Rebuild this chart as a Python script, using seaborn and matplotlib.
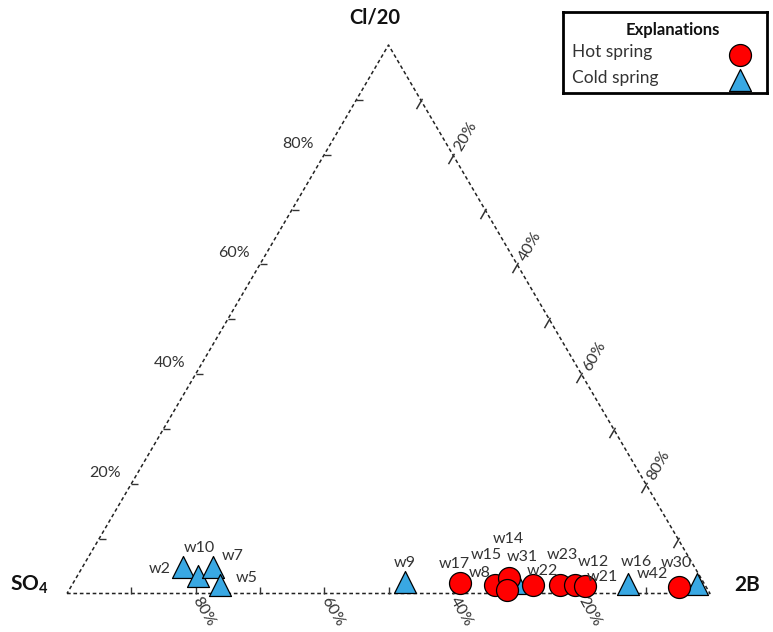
import numpy as np
import pandas as pd
import matplotlib
matplotlib.use("Agg")
import matplotlib.pyplot as plt
from matplotlib.path import Path
import seaborn as sns

# ---- sample composition (percent of SO4, Cl/20 and 2B) ----
names = ["w2", "w10", "w7", "w5", "w9", "w31", "w16", "w30",
         "w17", "w8", "w14", "w15", "w22", "w23", "w12", "w21", "w42"]
kind = ["Cold spring"] * 8 + ["Hot spring"] * 9
so4 = [79.5, 78.0, 74.8, 75.4, 46.4, 29.1, 11.9, 1.1,
       37.9, 32.7, 29.9, 31.3, 26.8, 22.6, 20.2, 18.7, 4.2]
cl20 = [4.9, 3.2, 4.9, 1.6, 2.1, 1.9, 1.7, 1.8,
        2.0, 1.5, 2.8, 0.6, 1.5, 1.5, 1.5, 1.4, 1.2]
b2 = [15.6, 18.8, 20.3, 23.0, 51.5, 69.0, 86.4, 97.1,
      60.1, 65.8, 67.3, 68.1, 71.7, 75.9, 78.3, 79.9, 94.6]

# label offsets for each sample name (points)
label_offset = {
    "w2": (-17, -2), "w10": (1, 20), "w7": (14, 8), "w5": (19, 5),
    "w9": (0, 14), "w31": (4, 19), "w16": (6, 16), "w30": (-15, 15),
    "w17": (-4, 13), "w8": (-11, 9), "w14": (0, 28), "w15": (-15, 25),
    "w22": (7, 10), "w23": (2, 22), "w12": (13, 17), "w21": (12, 6),
    "w42": (-19, 9),
}

tick_values = [20, 40, 60, 80]

df = pd.DataFrame({"name": names, "kind": kind, "SO4": so4, "Cl": cl20, "B": b2})
tot = df["SO4"] + df["Cl"] + df["B"]
df["tx"] = (df["B"] + 0.5 * df["Cl"]) / tot
df["ty"] = df["Cl"] / tot

sns.set_theme(style="white")
plt.rcParams["font.family"] = ["Lato", "DejaVu Sans"]
plt.rcParams["mathtext.fontset"] = "custom"
plt.rcParams["mathtext.rm"] = "Lato"
plt.rcParams["mathtext.bf"] = "Lato:bold"

W, H = 773, 632
fig = plt.figure(figsize=(W / 100, H / 100), dpi=100)
fig.patch.set_facecolor("white")
x0, x1, ytop, ybase = 67, 710, 45, 593.5
ax = fig.add_axes([x0 / W, 1 - ybase / H, (x1 - x0) / W, (ybase - ytop) / H])
ax.set_xlim(0, 1)
ax.set_ylim(0, 1)
ax.axis("off")

# triangle frame
ax.plot([0, 1, 0.5, 0], [0, 0, 1, 0], color="#222222", lw=1.1,
        linestyle=(0, (2.4, 1.8)), clip_on=False, zorder=1)

tick_col = "#333333"
txt_col = "#333333"
mk_left = Path([(0, 0), (1, 0)])
mk_bottom = Path([(0, 0), (0, 1)])
mk_right = Path([(0.1, 0.1732), (-0.5, -0.866)])
steps = np.arange(1, 10) / 10

# left edge (Cl/20)
ax.plot(steps / 2, steps, linestyle="none", marker=mk_left, markersize=10,
        markeredgecolor=tick_col, markeredgewidth=1, clip_on=False)
# bottom edge (SO4)
ax.plot(steps, np.zeros_like(steps), linestyle="none", marker=mk_bottom,
        markersize=10, markeredgecolor=tick_col, markeredgewidth=1, clip_on=False)
# right edge (2B)
ax.plot(0.5 + steps / 2, 1 - steps, linestyle="none", marker=mk_right,
        markersize=12.5, markeredgecolor=tick_col, markeredgewidth=1.1, clip_on=False)

for v in tick_values:
    f = v / 100
    ax.annotate(f"{v}%", xy=(f / 2, f), xytext=(-19, 8), textcoords="offset points",
                ha="center", va="center", fontsize=11.5, color=txt_col)
    ax.annotate(f"{v}%", xy=(1 - f, 0), xytext=(6, -13), textcoords="offset points",
                ha="center", va="center", fontsize=11.5, color=txt_col, rotation=-60)
    ax.annotate(f"{v}%", xy=(0.5 + f / 2, 1 - f), xytext=(9.5, 13), textcoords="offset points",
                ha="center", va="center", fontsize=11.5, color=txt_col, rotation=60)

# vertex names
ax.annotate("Cl/20", xy=(0.5, 1), xytext=(-10, 20), textcoords="offset points",
            ha="center", va="center", fontsize=14.5, fontweight="bold", color="#111111")
ax.annotate(r"$\mathbf{SO_4}$", xy=(0, 0), xytext=(-27, 6), textcoords="offset points",
            ha="center", va="center", fontsize=15, color="#111111")
ax.annotate("2B", xy=(1, 0), xytext=(27, 6), textcoords="offset points",
            ha="center", va="center", fontsize=15, fontweight="bold", color="#111111")

palette = {"Hot spring": "#FF0000", "Cold spring": "#39A8E3"}
markers = {"Hot spring": "o", "Cold spring": "^"}
for k in ["Cold spring", "Hot spring"]:
    sub = df[df["kind"] == k]
    sns.scatterplot(data=sub, x="tx", y="ty", ax=ax, color=palette[k],
                    marker=markers[k], s=250, edgecolor="black", linewidth=0.9,
                    legend=False, clip_on=False, zorder=3)

for _, r in df.iterrows():
    dx, dy = label_offset[r["name"]]
    ax.annotate(r["name"], xy=(r["tx"], r["ty"]), xytext=(dx, dy),
                textcoords="offset points", ha="center", va="center",
                fontsize=11.5, color=txt_col, zorder=4)

# explanation box
lx0, lx1, ly0, ly1 = 563, 767, 12, 93
lax = fig.add_axes([lx0 / W, 1 - ly1 / H, (lx1 - lx0) / W, (ly1 - ly0) / H])
lax.set_xlim(0, 1)
lax.set_ylim(0, 1)
lax.set_xticks([])
lax.set_yticks([])
for sp in lax.spines.values():
    sp.set_visible(True)
    sp.set_color("black")
    sp.set_linewidth(2)
lax.text(0.54, 0.78, "Explanations", ha="center", va="center", fontsize=12,
         fontweight="bold", color="#111111")
lax.text(0.045, 0.5, "Hot spring", ha="left", va="center", fontsize=12.5, color=txt_col)
lax.text(0.045, 0.19, "Cold spring", ha="left", va="center", fontsize=12.5, color=txt_col)
lax.scatter([0.868], [0.47], s=250, marker="o", color=palette["Hot spring"],
            edgecolor="black", linewidth=0.9, clip_on=False)
lax.scatter([0.868], [0.16], s=250, marker="^", color=palette["Cold spring"],
            edgecolor="black", linewidth=0.9, clip_on=False)

fig.savefig("out.png", dpi=100, facecolor="white")
